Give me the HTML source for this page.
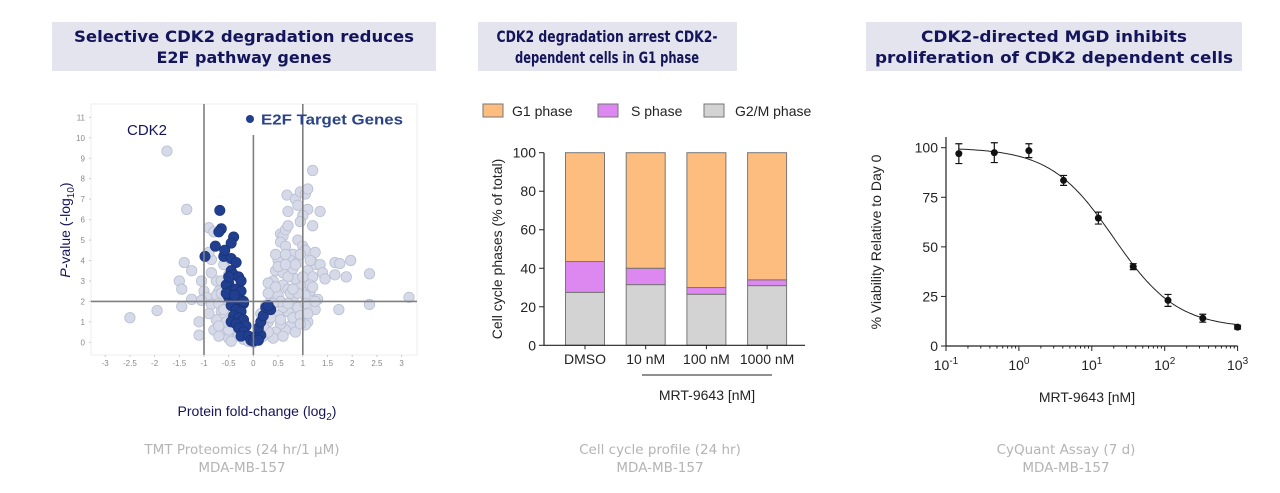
<!DOCTYPE html>
<html><head><meta charset="utf-8"><style>
html,body{margin:0;padding:0;background:#fff;width:1280px;height:493px;overflow:hidden}
svg{display:block}
text{font-family:"Liberation Sans",sans-serif}
.t{font-family:"DejaVu Sans",sans-serif;font-weight:bold;fill:#14145a;font-size:16px}
.foot{font-family:"DejaVu Sans",sans-serif;fill:#b4b4b4;font-size:13.5px}
</style></head><body>
<svg id="root" width="1280" height="493" viewBox="0 0 1280 493" xmlns="http://www.w3.org/2000/svg">
<g>
<rect x="52" y="22" width="384" height="49" fill="#e3e4ee"/>
<text class="t" x="244" y="42" text-anchor="middle" textLength="340" lengthAdjust="spacingAndGlyphs">Selective CDK2 degradation reduces</text>
<text class="t" x="244" y="63" text-anchor="middle">E2F pathway genes</text>
</g>
<g>
<rect x="478" y="22" width="259" height="49" fill="#e3e4ee"/>
<text class="t" x="607" y="42" text-anchor="middle" textLength="221" lengthAdjust="spacingAndGlyphs">CDK2 degradation arrest CDK2-</text>
<text class="t" x="607" y="63" text-anchor="middle" textLength="184" lengthAdjust="spacingAndGlyphs">dependent cells in G1 phase</text>
</g>
<g>
<rect x="866" y="22" width="376" height="49" fill="#e3e4ee"/>
<text class="t" x="1054" y="42" text-anchor="middle" textLength="266" lengthAdjust="spacingAndGlyphs">CDK2-directed MGD inhibits</text>
<text class="t" x="1054" y="63" text-anchor="middle" textLength="358" lengthAdjust="spacingAndGlyphs">proliferation of CDK2 dependent cells</text>
</g>
<g id="volcano"></g>
<g id="bars"></g>
<g id="dose"></g>
<g>
<text class="foot" x="242" y="454" text-anchor="middle">TMT Proteomics (24 hr/1 µM)</text>
<text class="foot" x="242" y="472" text-anchor="middle">MDA-MB-157</text>
<text class="foot" x="660" y="454" text-anchor="middle">Cell cycle profile (24 hr)</text>
<text class="foot" x="660" y="472" text-anchor="middle">MDA-MB-157</text>
<text class="foot" x="1066" y="454" text-anchor="middle">CyQuant Assay (7 d)</text>
<text class="foot" x="1066" y="472" text-anchor="middle">MDA-MB-157</text>
</g>
</svg>
<script>
const NS="http://www.w3.org/2000/svg";
function mk(p,tag,a,txt){const e=document.createElementNS(NS,tag);for(const k in a)e.setAttribute(k,a[k]);if(txt!==undefined)e.textContent=txt;p.appendChild(e);return e;}

// ---------- Volcano data ----------
const volcanoXTicks=[-3,-2.5,-2,-1.5,-1,-0.5,0,0.5,1,1.5,2,2.5,3];
const volcanoYTicks=[0,1,2,3,4,5,6,7,8,9,10,11];
const greyFC=[-2.5,-1.95,-1.75,-1.35,-1.4,-1.5,-1.45,-1.25,-1.45,-1.25,-1.1,-1.1,-1.05,-1.0,-0.95,-1.05,-0.85,-0.9,-0.8,-0.85,-0.9,-0.75,-0.7,-0.75,-0.6,-0.65,-0.7,-0.65,-0.6,-0.55,-0.6,-0.5,-0.55,-0.5,-0.45,-0.4,-0.35,-0.3,-0.2,-0.1,0,0.1,0.2,0.25,0.3,0.35,0.35,0.4,0.4,0.45,0.5,0.45,0.55,0.6,0.55,0.65,0.65,0.7,0.7,0.68,0.85,0.9,0.95,1.05,1.1,1.2,1.1,1.0,0.95,1.35,1.2,0.9,1.0,1.05,1.25,0.8,0.75,1.2,1.25,1.35,1.4,1.45,1.1,1.2,1.65,1.75,1.97,1.65,1.88,2.35,3.15,2.35,1.73,1.25,1.3,1.15,1.05,0.95,0.85,0.8,0.7,0.75,0.8,0.9,1.05,1.1,1.05,0.65,0.55,0.6,0.5,0.5,0.45,0.4,0.3,0.6,0.7,0.8,0.9,1.0,1.15,1.25,0.95,0.85,0.6,0.7,0.3,0.25,0.15,-0.75,-0.8,-0.9,-0.7,-0.45,-0.6,-0.5,-0.45,-0.85,-0.5,0.5,0.55,0.75,0.9,1.1,1.2,0.35,0.2,0.65,0.85,0.95,1.15,0.6,0.95,0.7,0.45,-0.6,-0.55,-0.65,-0.7,0.3,0.4,0.55,0.65,0.8];
const greyP=[1.2,1.55,9.35,6.5,3.9,3,2.6,3.5,1.75,2.1,1,0.35,3,2.5,2.2,2.05,1.85,5.6,5.4,4.05,4.4,3.0,2.5,2.3,3.8,3.0,1.9,1.5,1.2,0.8,0.4,0.2,2.6,2.0,1.5,1.0,0.6,0.3,0.15,0.05,0,0.1,0.3,0.7,1.0,1.6,2.2,2.6,3.0,3.5,4.0,4.3,5.3,5.2,4.9,4.7,5.5,5.7,6.4,7.2,7.0,6.7,7.35,7.25,7.5,8.4,6.5,6.2,5.9,6.4,5.7,5.0,4.7,4.5,4.4,4.3,4.0,3.9,3.8,3.8,3.4,3.1,3.5,3.2,3.9,3.85,4.0,3.3,3.2,3.35,2.2,1.85,1.6,1.6,2.1,2.5,2.3,2.8,3.1,2.1,1.5,0.8,1.2,1.7,1.9,1.0,0.85,0.6,0.9,1.7,2.3,1.3,0.5,0.2,0.5,3.4,3.2,3.6,3.9,3.2,2.8,2.0,1.3,0.5,2.8,2.6,2.9,1.8,1.4,1.1,0.6,1.4,0.3,0.05,2.2,3.3,4.0,3.4,0.6,3.7,2.0,2.4,2.4,1.4,2.7,1.2,0.8,4.3,3.8,4.3,4.0,0.3,0.9,1.9,2.7,1.6,1.0,2.4,0.8,2.4,1.9,1.1,3.8,2.6];
const blueFC=[-0.68,-0.65,-0.7,-0.4,-0.45,-0.77,-0.98,-0.6,-0.58,-0.45,-0.35,-0.45,-0.4,-0.3,-0.25,-0.5,-0.55,-0.45,-0.35,-0.25,-0.5,-0.4,-0.3,-0.2,-0.45,-0.35,-0.25,-0.4,-0.3,-0.2,-0.45,-0.35,-0.15,-0.3,-0.2,-0.25,-0.1,-0.05,0.0,0.05,0.15,0.1,0.15,0.2,0.25,0.35,0.3,0.1,-0.5,-0.55,-0.38,-0.2];
const blueP=[6.45,5.55,5.4,5.15,4.85,4.7,4.2,4.2,4.5,4.1,3.9,3.5,3.3,3.2,3.0,2.9,2.8,2.5,2.6,2.5,2.2,2.0,2.1,1.9,1.8,1.6,1.5,1.3,1.2,1.1,1.0,0.9,0.8,0.7,0.5,0.3,0.3,0.1,0.05,0.3,0.35,0.7,1.0,1.3,1.7,1.6,1.8,0.1,3.2,2.4,2.3,2.0];

(function(){
const g=document.getElementById('volcano');
const L=91,R=417,T=104,B=355;
const vx=v=>253.4+v*49.4, vy=v=>342.3-v*20.45;
const frame=mk(g,'rect',{x:L,y:T,width:R-L,height:B-T,fill:'none',stroke:'#eeeef2','stroke-width':1});

volcanoXTicks.forEach(t=>{const e=mk(g,'text',{x:vx(t),y:366,'text-anchor':'middle','font-size':8,fill:'#888','font-family':'DejaVu Sans,sans-serif'},String(t));

mk(g,'line',{x1:vx(t),x2:vx(t),y1:B,y2:B+2,stroke:'#ccc'});});
volcanoYTicks.forEach(t=>{const e=mk(g,'text',{x:L-6,y:vy(t)+3,'text-anchor':'end','font-size':8,fill:'#888','font-family':'DejaVu Sans,sans-serif'},String(t));

mk(g,'line',{x1:L-2,x2:L,y1:vy(t),y2:vy(t),stroke:'#ccc'});});
const pts=mk(g,'g',{});
greyFC.forEach((f,i)=>{const c=mk(pts,'circle',{cx:vx(f),cy:vy(greyP[i]),r:5.2,fill:'#d5d9e8',stroke:'#b9bfd2','stroke-width':0.8});
});
const bp=mk(g,'g',{});
blueFC.forEach((f,i)=>{const c=mk(bp,'circle',{cx:vx(f),cy:vy(blueP[i]),r:5.2,fill:'#213f90',stroke:'#1a3070','stroke-width':0.6});
});
[-1,0,1].forEach(v=>{const l=mk(g,'line',{x1:vx(v),x2:vx(v),y1:v===0?135:T,y2:B,stroke:'#7f7f7f','stroke-width':1.6});
});
const h=mk(g,'line',{x1:L,x2:R,y1:vy(2),y2:vy(2),stroke:'#7f7f7f','stroke-width':1.6});

const ld=mk(g,'circle',{cx:250,cy:119,r:4,fill:'#213f90'});
const lt=mk(g,'text',{x:261,y:124.5,'font-size':15,'font-weight':'bold',fill:'#2a4388','font-family':'DejaVu Sans,sans-serif',textLength:142,lengthAdjust:'spacingAndGlyphs'},'E2F Target Genes');

const ck=mk(g,'text',{x:127,y:135,'font-size':15,fill:'#14145a','font-family':'DejaVu Sans,sans-serif',textLength:40,lengthAdjust:'spacingAndGlyphs'},'CDK2');

const yl=mk(g,'text',{transform:'translate(70,230) rotate(-90)','text-anchor':'middle','font-size':14,fill:'#14145a','font-family':'DejaVu Sans,sans-serif'});
yl.innerHTML='<tspan font-style="italic">P</tspan>-value (-log<tspan font-size="10" dy="4">10</tspan><tspan dy="-4">)</tspan>';

const xl=mk(g,'text',{x:257,y:416,'text-anchor':'middle','font-size':14,fill:'#14145a','font-family':'DejaVu Sans,sans-serif'});
xl.innerHTML='Protein fold-change (log<tspan font-size="10" dy="4">2</tspan><tspan dy="-4">)</tspan>';

})();

// ---------- Cell cycle bars ----------
const barCategories=['DMSO','10 nM','100 nM','1000 nM'];
const g2mValues=[27.5,31.5,26.5,31];
const sValues=[16,8.5,3.5,3];
const g1Values=[56.5,60,70,66];
const barYTicks=[0,20,40,60,80,100];
(function(){
const g=document.getElementById('bars');
const y0=345.3,y100=152.7,X0=544,X1=805;
const by=v=>y0-(y0-y100)*v/100;
const bx=i=>585+i*60.7;
const series=[['g2m',g2mValues,'#d3d3d3'],['s',sValues,'#dd87f0'],['g1',g1Values,'#fdbd7f']];
barCategories.forEach((c,i)=>{let acc=0;series.forEach(([n,vals,col])=>{const v=vals[i];
const r=mk(g,'rect',{x:bx(i)-19.5,y:by(acc+v),width:39,height:by(acc)-by(acc+v),fill:col,stroke:'#777','stroke-width':1});
acc+=v;});
const t=mk(g,'text',{x:bx(i),y:364,'text-anchor':'middle','font-size':14,fill:'#222'},c);

mk(g,'line',{x1:bx(i),x2:bx(i),y1:y0,y2:y0+4,stroke:'#222'});});
const ax=mk(g,'path',{d:`M${X0} ${y100}V${y0}H${X1}`,fill:'none',stroke:'#222','stroke-width':1.2});

barYTicks.forEach(t=>{mk(g,'line',{x1:X0-5,x2:X0,y1:by(t),y2:by(t),stroke:'#222'});
const e=mk(g,'text',{x:X0-8,y:by(t)+5,'text-anchor':'end','font-size':14,fill:'#222'},String(t));
});
const yl=mk(g,'text',{transform:'translate(502,249) rotate(-90)','text-anchor':'middle','font-size':14,fill:'#222'},'Cell cycle phases (% of total)');

const ul=mk(g,'line',{x1:642,x2:772,y1:375,y2:375,stroke:'#222'});
const xl=mk(g,'text',{x:707,y:400,'text-anchor':'middle','font-size':14,fill:'#222'},'MRT-9643  [nM]');

[['G1 phase','#fdbd7f',483,512],['S phase','#dd87f0',598,631],['G2/M phase','#d3d3d3',704,735]].forEach(([l,c,sx,tx])=>{
const r=mk(g,'rect',{x:sx,y:104,width:20,height:13,fill:c,stroke:'#777'});
const t=mk(g,'text',{x:tx,y:116,'font-size':14,fill:'#222'},l);});
})();

// ---------- Dose response ----------
const doseConc=[0.15,0.46,1.37,4.1,12.3,37,111,333,1000];
const viability=[97,97.5,98.5,83.5,64.5,40,23,14,9.5];
const viabilityErr=[5,5,3.5,2.5,3,1.5,3,2,1];
const fitTop=[100], fitBottom=[9], fitIC50=[20], fitHill=[1];
const doseYTicks=[0,25,50,75,100];
const doseXExp=[-1,0,1,2,3];
(function(){
const g=document.getElementById('dose');
const X0=946,Y0=346,Y100=147.7;
const dx=c=>X0+(Math.log10(c)+1)*72.9;
const dy=v=>Y0-(Y0-Y100)*v/100;
const ax=mk(g,'path',{d:`M${X0} 137V${Y0}H${dx(1000)}`,fill:'none',stroke:'#222','stroke-width':1.2});

doseYTicks.forEach(t=>{mk(g,'line',{x1:X0-5,x2:X0,y1:dy(t),y2:dy(t),stroke:'#222'});
const e=mk(g,'text',{x:X0-8,y:dy(t)+5,'text-anchor':'end','font-size':14,fill:'#222'},String(t));
});
doseXExp.forEach(p=>{const x=dx(Math.pow(10,p));mk(g,'line',{x1:x,x2:x,y1:Y0,y2:Y0+5,stroke:'#222'});
const e=mk(g,'text',{x:x,y:370,'text-anchor':'middle','font-size':14,fill:'#222'});
e.innerHTML='10<tspan font-size="10" dy="-6">'+p+'</tspan>';

for(let k=2;k<10&&p<3;k++){const xm=dx(k*Math.pow(10,p));mk(g,'line',{x1:xm,x2:xm,y1:Y0,y2:Y0+2.5,stroke:'#222'});}});
let d='';const f=c=>fitBottom[0]+(fitTop[0]-fitBottom[0])/(1+Math.pow(c/fitIC50[0],fitHill[0]));
for(let i=0;i<=200;i++){const lc=Math.log10(0.15)+(3-Math.log10(0.15))*i/200;const c=Math.pow(10,lc);d+=(i?'L':'M')+dx(c).toFixed(1)+' '+dy(f(c)).toFixed(1);}
const cv=mk(g,'path',{d:d,fill:'none',stroke:'#222','stroke-width':1});
doseConc.forEach((c,i)=>{const x=dx(c),y=dy(viability[i]),e=viabilityErr[i];
const eb=mk(g,'path',{d:`M${x} ${dy(viability[i]-e)}V${dy(viability[i]+e)}M${x-3.5} ${dy(viability[i]-e)}h7M${x-3.5} ${dy(viability[i]+e)}h7`,stroke:'#111','stroke-width':1.2,fill:'none'});

const p=mk(g,'circle',{cx:x,cy:y,r:3.5,fill:'#111'});});
const yl=mk(g,'text',{transform:'translate(881,242) rotate(-90)','text-anchor':'middle','font-size':14,fill:'#222'},'% Viability Relative to Day 0');

const xl=mk(g,'text',{x:1087,y:402,'text-anchor':'middle','font-size':14,fill:'#222'},'MRT-9643  [nM]');

})();
</script>
</body></html>
